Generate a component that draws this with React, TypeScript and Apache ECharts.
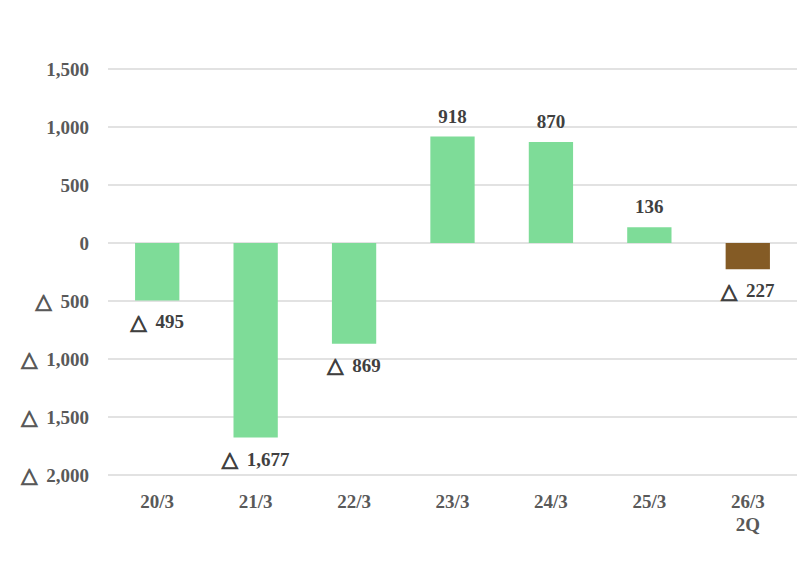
import React, { useEffect, useRef } from "react";
import * as echarts from "echarts";

const categories = ["20/3", "21/3", "22/3", "23/3", "24/3", "25/3", "26/3\n2Q"];
const values = [-495, -1677, -869, 918, 870, 136, -227];
const barColors = ["#7EDC98", "#7EDC98", "#7EDC98", "#7EDC98", "#7EDC98", "#7EDC98", "#845B25"];

const fmt = (v: number) => {
  const s = Math.abs(v).toLocaleString("en-US");
  return v < 0 ? "{t|△} " + s : s;
};

export default function App() {
  const ref = useRef<HTMLDivElement>(null);
  useEffect(() => {
    const chart = echarts.init(ref.current!, null, { renderer: "svg" });
    const font = "'Liberation Serif', 'DejaVu Serif', serif";
    const tri = (color: string) => ({
      fontFamily: "'DejaVu Sans', sans-serif",
      fontWeight: "bold",
      fontSize: 21,
      color,
      textBorderColor: color,
      textBorderWidth: 1,
      padding: [0, 4, 0, 0],
    });
    chart.setOption({
      animation: false,
      backgroundColor: "#ffffff",
      grid: { left: 108, right: 3, top: 69, bottom: 92 },
      xAxis: {
        type: "category",
        data: categories,
        axisLine: { show: false, onZero: false },
        axisTick: { show: false },
        axisLabel: {
          color: "#595959",
          fontFamily: font,
          fontWeight: "bold",
          fontSize: 19,
          margin: 15,
          lineHeight: 23,
        },
      },
      yAxis: {
        type: "value",
        min: -2000,
        max: 1500,
        interval: 500,
        axisLine: { show: false },
        axisTick: { show: false },
        splitLine: { lineStyle: { color: "#d9d9d9", width: 1.5 } },
        axisLabel: {
          color: "#595959",
          fontFamily: font,
          fontWeight: "bold",
          fontSize: 19,
          margin: 19,
          formatter: (v: number) => fmt(v),
          rich: { t: tri("#595959") },
        },
      },
      series: [
        {
          type: "bar",
          barWidth: "45%",
          data: values.map((v, i) => ({
            value: v,
            itemStyle: { color: barColors[i] },
            label: {
              show: true,
              position: v < 0 ? "bottom" : "top",
              distance: 11,
              formatter: () => fmt(v),
              color: "#404040",
              fontFamily: font,
              fontWeight: "bold",
              fontSize: 19,
              rich: { t: tri("#404040") },
            },
          })),
        },
      ],
    });
    return () => chart.dispose();
  }, []);
  return (
    <div
      ref={ref}
      style={{ position: "absolute", left: 0, top: 0, width: 800, height: 567 }}
    />
  );
}
